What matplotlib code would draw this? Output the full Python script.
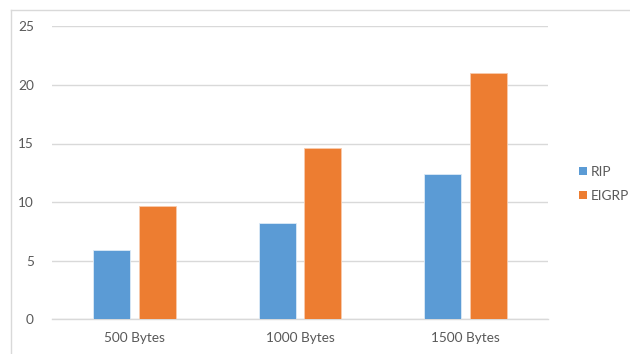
import matplotlib
matplotlib.use("Agg")
import matplotlib.pyplot as plt
import numpy as np
from matplotlib.lines import Line2D
from matplotlib.patches import Patch

categories = ["500 Bytes", "1000 Bytes", "1500 Bytes"]
series_names = ["RIP", "EIGRP"]
rip = [5.9, 8.2, 12.4]
eigrp = [9.7, 14.6, 21.0]
yticks = [0, 5, 10, 15, 20, 25]

colors = ["#5B9BD5", "#ED7D31"]
text_color = "#595959"
grid_color = "#D9D9D9"

plt.rcParams['font.family'] = ['Lato', 'DejaVu Sans']

fig = plt.figure(figsize=(6.3, 3.54), dpi=100)
ax = fig.add_axes([52/630, 1-319.3/354, 496/630, (319.3-26.3)/354])

x = np.arange(len(categories))
w = 0.224
off = 0.139
ax.bar(x - off, rip, width=w, color=colors[0], edgecolor="#DDEBF7", linewidth=0.6, zorder=3)
ax.bar(x + off, eigrp, width=w, color=colors[1], edgecolor="#F8CBAD", linewidth=0.6, zorder=3)

ax.set_xlim(-0.5, 2.5)
ax.set_ylim(0, 25)
ax.set_yticks(yticks)
ax.set_yticklabels([str(v) for v in yticks])
ax.set_xticks(x)
ax.set_xticklabels(categories)
ax.grid(axis='y', color=grid_color, linewidth=1.0, zorder=0)
ax.set_axisbelow(True)
for s in ['top', 'right', 'left']:
    ax.spines[s].set_visible(False)
ax.spines['bottom'].set_color(grid_color)
ax.spines['bottom'].set_linewidth(1.0)
ax.tick_params(axis='both', length=0, colors=text_color, labelsize=9.8)
ax.tick_params(axis='y', pad=13)
ax.tick_params(axis='x', pad=9)

handles = [Patch(facecolor=colors[0], edgecolor='none'),
           Patch(facecolor=colors[1], edgecolor='none')]
leg = fig.legend(handles, series_names, loc='center left',
                 bbox_to_anchor=(574/630, 1-184/354), frameon=False,
                 fontsize=9.8, handlelength=0.55, handleheight=0.55,
                 handletextpad=0.3, labelspacing=0.9, borderaxespad=0)
for t in leg.get_texts():
    t.set_color(text_color)

# chart-area border (top and left visible)
fig.add_artist(Line2D([11/630, 11/630], [0, 1-10/354], transform=fig.transFigure,
                      color=grid_color, linewidth=1.0))
fig.add_artist(Line2D([11/630, 1], [1-10/354, 1-10/354], transform=fig.transFigure,
                      color=grid_color, linewidth=1.0))

fig.savefig("out.png", dpi=100, facecolor="white")
